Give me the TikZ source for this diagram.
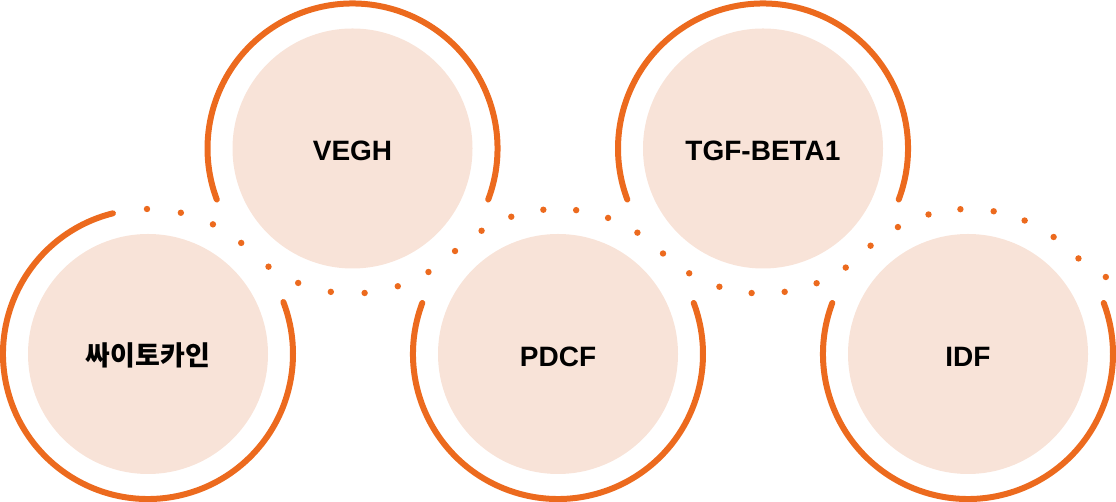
\documentclass[tikz,border=0pt]{standalone}
\usepackage{fontspec}
\usetikzlibrary{calc}
\newfontfamily\kr{Noto Sans CJK KR}
\newfontfamily\lat{Liberation Sans}
\definecolor{ringc}{HTML}{EC6A1E}
\definecolor{diskc}{HTML}{F8E3D8}
\begin{document}
\begin{tikzpicture}[x=1pt,y=1pt,
  disk/.style={circle,fill=diskc,draw=none,minimum size=240pt,inner sep=0pt,text=black},
  latlab/.style={font=\lat\bfseries\fontsize{28}{30}\selectfont},
  krlab/.style={font=\kr\bfseries\fontsize{27}{30}\selectfont},
  ring/.style={draw=ringc,line width=6pt,line cap=round},
  dotc/.style={fill=ringc,draw=none}]
\useasboundingbox (0,0) rectangle (1116,502);
\coordinate (c1) at (148,148);
\coordinate (c2) at (352.5,353.5);
\coordinate (c3) at (558,148);
\coordinate (c4) at (763,353.5);
\coordinate (c5) at (968,148);
\coordinate (c6) at (1173,353.5);
\node[disk] (n1) at (c1) {};
\node[disk] (n2) at (c2) {};
\node[disk] (n3) at (c3) {};
\node[disk] (n4) at (c4) {};
\node[disk] (n5) at (c5) {};
\node[krlab] (t1) at ([yshift=-1.5pt]n1.center) {싸이토카인};
\node[latlab] (t2) at ([yshift=-2.5pt]n2.center) {VEGH};
\node[latlab] (t3) at ([yshift=-2.5pt]n3.center) {PDCF};
\node[latlab] (t4) at ([yshift=-2.5pt]n4.center) {TGF-BETA1};
\node[latlab] (t5) at ([yshift=-2.5pt]n5.center) {IDF};
% solid rings
\draw[ring] ($(c1)+(104:145)$) arc[start angle=104,end angle=381,radius=145];
\draw[ring] ($(c2)+(-20.6:145)$) arc[start angle=-20.6,end angle=200.6,radius=145];
\draw[ring] ($(c3)+(159.4:145)$) arc[start angle=159.4,end angle=380.6,radius=145];
\draw[ring] ($(c4)+(-20.6:145)$) arc[start angle=-20.6,end angle=200.6,radius=145];
\draw[ring] ($(c5)+(159.4:145)$) arc[start angle=159.4,end angle=380.6,radius=145];
% dotted serpentine
\foreach \a in {90.4,76.9,63.4,50} \fill[dotc] ($(c1)+(\a:145)$) circle[radius=3.2];
\foreach \a in {234.6,248,261.4,274.8,288.2,301.6,315} \fill[dotc] ($(c2)+(\a:145)$) circle[radius=3.2];
\foreach \a in {121.8,108.8,95.8,82.8,69.8,56.8} \fill[dotc] ($(c3)+(\a:145)$) circle[radius=3.2];
\foreach \a in {226.4,239.4,252.5,265.5,278.6,291.7,304.8,317.9} \fill[dotc] ($(c4)+(\a:145)$) circle[radius=3.2];
\foreach \a in {118.9,105.8,93,79.8,67,53.8} \fill[dotc] ($(c5)+(\a:145)$) circle[radius=3.2];
\foreach \a in {229.3,242.4} \fill[dotc] ($(c6)+(\a:145)$) circle[radius=3.2];
\end{tikzpicture}
\end{document}
